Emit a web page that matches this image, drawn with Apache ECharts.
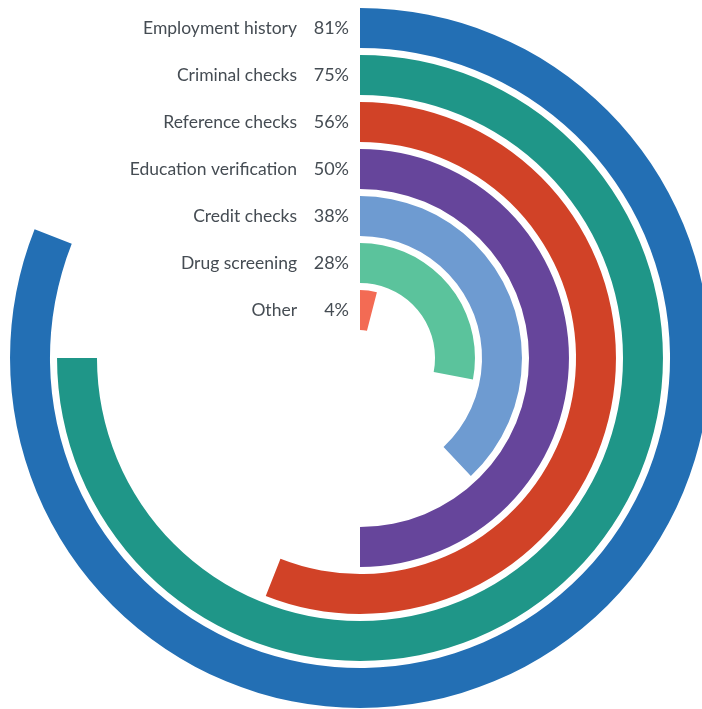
<!DOCTYPE html>
<html>
<head>
<meta charset="utf-8">
<style>
  html, body { margin: 0; padding: 0; background: #ffffff; }
  #chart { width: 702px; height: 709px; }
</style>
<script src="https://cdn.jsdelivr.net/npm/echarts@6/dist/echarts.min.js"></script>
</head>
<body>
<div id="chart"></div>
<script>
// Screening methods, listed from the outermost ring to the innermost
const categories = ['Employment history', 'Criminal checks', 'Reference checks', 'Education verification', 'Credit checks', 'Drug screening', 'Other'];
const shares = [81, 75, 56, 50, 38, 28, 4];
const ringColors = ['#236fb4', '#1f9688', '#d14227', '#66459b', '#6e9bd1', '#5bc39c', '#f36b54'];

const chart = echarts.init(document.getElementById('chart'), null, { renderer: 'canvas' });

chart.setOption({
  animation: false,
  polar: {
    center: [360, 358],
    radius: [24.5, 353.5]
  },
  angleAxis: {
    type: 'value',
    min: 0,
    max: 100,
    startAngle: 90,
    clockwise: true,
    show: false
  },
  radiusAxis: {
    type: 'category',
    data: categories,
    inverse: true,
    axisLine: { show: false },
    axisTick: { show: false },
    splitLine: { show: false },
    axisLabel: {
      interval: 0,
      hideOverlap: false,
      margin: 11,
      align: 'right',
      verticalAlign: 'middle',
      formatter: function (value, idx) {
        return '{n|' + value + '}{v|' + shares[idx] + '%}';
      },
      rich: {
        n: { fontFamily: 'Lato, "Open Sans", sans-serif', fontSize: 17.5, color: '#454c53' },
        v: { fontFamily: 'Lato, "Open Sans", sans-serif', fontSize: 18, color: '#454c53', width: 52, align: 'right' }
      }
    }
  },
  series: [{
    type: 'bar',
    coordinateSystem: 'polar',
    barCategoryGap: '15%',
    data: shares.map(function (v, i) {
      return { value: v, itemStyle: { color: ringColors[i] } };
    })
  }]
});
</script>
</body>
</html>
